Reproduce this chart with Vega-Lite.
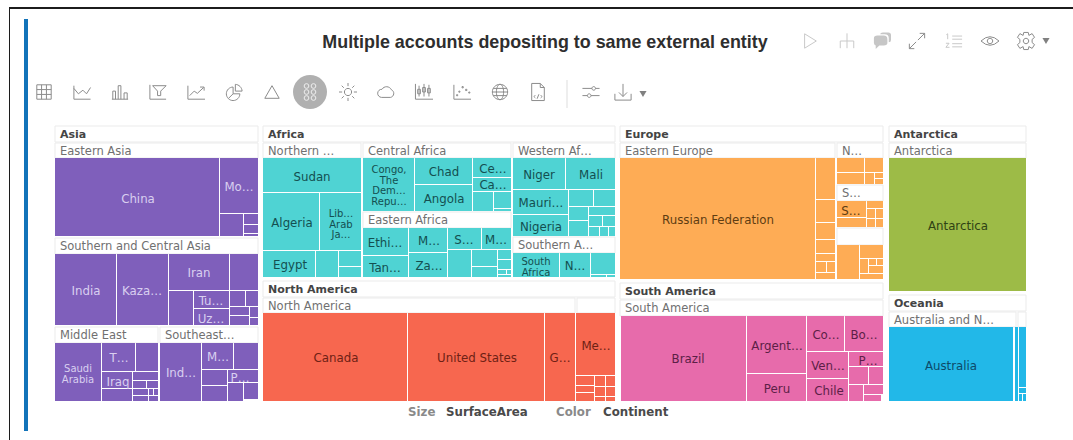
{
"$schema":"https://vega.github.io/schema/vega-lite/v6.json",
"autosize":{"type":"none"},
"padding":0,
"width":1073,"height":440,
"background":"#ffffff",
"config":{"view":{"stroke":null}},
"encoding":{
 "x":{"field":"x0","type":"quantitative","scale":{"domain":[0,1073]},"axis":null},
 "y":{"field":"y0","type":"quantitative","scale":{"domain":[440,0]},"axis":null}
},
"datasets":{
"cells":[
{"c":"Asia","x0":55,"x1":219,"y0":158,"y1":236},{"c":"Asia","x0":220,"x1":258,"y0":158,"y1":213},{"c":"Asia","x0":220,"x1":243,"y0":214,"y1":236},{"c":"Asia","x0":244,"x1":258,"y0":214,"y1":224},{"c":"Asia","x0":244,"x1":258,"y0":225,"y1":233},{"c":"Asia","x0":244,"x1":258,"y0":234,"y1":236},
{"c":"Asia","x0":55,"x1":116,"y0":254,"y1":325},{"c":"Asia","x0":117,"x1":168,"y0":254,"y1":325},{"c":"Asia","x0":169,"x1":229,"y0":254,"y1":290},{"c":"Asia","x0":230,"x1":258,"y0":254,"y1":290},{"c":"Asia","x0":169,"x1":193,"y0":291,"y1":325},{"c":"Asia","x0":194,"x1":229,"y0":291,"y1":308},{"c":"Asia","x0":194,"x1":229,"y0":309,"y1":325},{"c":"Asia","x0":230,"x1":245,"y0":291,"y1":306},{"c":"Asia","x0":246,"x1":258,"y0":291,"y1":306},{"c":"Asia","x0":230,"x1":249,"y0":307,"y1":315},{"c":"Asia","x0":250,"x1":258,"y0":307,"y1":317},{"c":"Asia","x0":230,"x1":249,"y0":316,"y1":325},{"c":"Asia","x0":250,"x1":258,"y0":318,"y1":325},
{"c":"Asia","x0":55,"x1":101,"y0":343,"y1":401},{"c":"Asia","x0":102,"x1":135,"y0":343,"y1":371},{"c":"Asia","x0":136,"x1":158,"y0":343,"y1":371},{"c":"Asia","x0":102,"x1":132,"y0":372,"y1":388},{"c":"Asia","x0":102,"x1":132,"y0":389,"y1":401},{"c":"Asia","x0":133,"x1":158,"y0":372,"y1":380},{"c":"Asia","x0":133,"x1":146,"y0":381,"y1":388},{"c":"Asia","x0":147,"x1":158,"y0":381,"y1":388},{"c":"Asia","x0":133,"x1":148,"y0":389,"y1":395},{"c":"Asia","x0":149,"x1":153,"y0":389,"y1":395},{"c":"Asia","x0":154,"x1":158,"y0":389,"y1":395},{"c":"Asia","x0":133,"x1":148,"y0":396,"y1":401},{"c":"Asia","x0":149,"x1":158,"y0":396,"y1":401},
{"c":"Asia","x0":160,"x1":201,"y0":343,"y1":401},{"c":"Asia","x0":202,"x1":233,"y0":343,"y1":369},{"c":"Asia","x0":234,"x1":258,"y0":343,"y1":369},{"c":"Asia","x0":202,"x1":227,"y0":370,"y1":385},{"c":"Asia","x0":228,"x1":258,"y0":370,"y1":382},{"c":"Asia","x0":202,"x1":227,"y0":386,"y1":401},{"c":"Asia","x0":228,"x1":243,"y0":383,"y1":401},{"c":"Asia","x0":244,"x1":258,"y0":383,"y1":399},
{"c":"Africa","x0":263,"x1":361,"y0":158,"y1":192},{"c":"Africa","x0":263,"x1":319,"y0":193,"y1":250},{"c":"Africa","x0":320,"x1":361,"y0":193,"y1":250},{"c":"Africa","x0":263,"x1":315,"y0":251,"y1":277},{"c":"Africa","x0":316,"x1":338,"y0":251,"y1":277},{"c":"Africa","x0":339,"x1":361,"y0":251,"y1":266},{"c":"Africa","x0":339,"x1":361,"y0":267,"y1":277},
{"c":"Africa","x0":363,"x1":414,"y0":158,"y1":211},{"c":"Africa","x0":415,"x1":472,"y0":158,"y1":184},{"c":"Africa","x0":415,"x1":472,"y0":185,"y1":211},{"c":"Africa","x0":473,"x1":511,"y0":158,"y1":177},{"c":"Africa","x0":473,"x1":511,"y0":178,"y1":191},{"c":"Africa","x0":473,"x1":493,"y0":192,"y1":211},{"c":"Africa","x0":494,"x1":511,"y0":192,"y1":208},{"c":"Africa","x0":494,"x1":511,"y0":209,"y1":211},
{"c":"Africa","x0":363,"x1":408,"y0":228,"y1":255},{"c":"Africa","x0":409,"x1":447,"y0":228,"y1":252},{"c":"Africa","x0":448,"x1":481,"y0":228,"y1":249},{"c":"Africa","x0":482,"x1":511,"y0":228,"y1":249},{"c":"Africa","x0":363,"x1":408,"y0":256,"y1":277},{"c":"Africa","x0":409,"x1":447,"y0":253,"y1":277},{"c":"Africa","x0":448,"x1":471,"y0":250,"y1":277},{"c":"Africa","x0":472,"x1":497,"y0":250,"y1":266},{"c":"Africa","x0":498,"x1":511,"y0":250,"y1":259},{"c":"Africa","x0":498,"x1":511,"y0":260,"y1":269},{"c":"Africa","x0":472,"x1":497,"y0":267,"y1":277},{"c":"Africa","x0":498,"x1":506,"y0":270,"y1":274},{"c":"Africa","x0":507,"x1":511,"y0":270,"y1":274},{"c":"Africa","x0":498,"x1":511,"y0":275,"y1":277},
{"c":"Africa","x0":513,"x1":565,"y0":158,"y1":189},{"c":"Africa","x0":566,"x1":615,"y0":158,"y1":189},{"c":"Africa","x0":513,"x1":568,"y0":190,"y1":214},{"c":"Africa","x0":569,"x1":593,"y0":190,"y1":206},{"c":"Africa","x0":594,"x1":615,"y0":190,"y1":206},{"c":"Africa","x0":513,"x1":568,"y0":215,"y1":236},{"c":"Africa","x0":569,"x1":588,"y0":207,"y1":220},{"c":"Africa","x0":589,"x1":615,"y0":207,"y1":215},{"c":"Africa","x0":589,"x1":602,"y0":216,"y1":226},{"c":"Africa","x0":603,"x1":615,"y0":216,"y1":226},{"c":"Africa","x0":569,"x1":588,"y0":221,"y1":236},{"c":"Africa","x0":589,"x1":599,"y0":227,"y1":236},{"c":"Africa","x0":600,"x1":608,"y0":227,"y1":236},{"c":"Africa","x0":609,"x1":615,"y0":227,"y1":236},
{"c":"Africa","x0":513,"x1":559,"y0":253,"y1":277},{"c":"Africa","x0":560,"x1":590,"y0":253,"y1":277},{"c":"Africa","x0":591,"x1":615,"y0":253,"y1":274},{"c":"Africa","x0":591,"x1":606,"y0":275,"y1":277},{"c":"Africa","x0":607,"x1":615,"y0":275,"y1":277},
{"c":"North America","x0":263,"x1":407,"y0":313,"y1":401},{"c":"North America","x0":408,"x1":544,"y0":313,"y1":401},{"c":"North America","x0":545,"x1":575,"y0":313,"y1":401},{"c":"North America","x0":576,"x1":615,"y0":313,"y1":375},{"c":"North America","x0":576,"x1":594,"y0":376,"y1":385},{"c":"North America","x0":595,"x1":605,"y0":376,"y1":386},{"c":"North America","x0":606,"x1":615,"y0":376,"y1":386},{"c":"North America","x0":576,"x1":594,"y0":386,"y1":392},{"c":"North America","x0":576,"x1":594,"y0":393,"y1":401},{"c":"North America","x0":595,"x1":605,"y0":387,"y1":396},{"c":"North America","x0":606,"x1":615,"y0":387,"y1":396},{"c":"North America","x0":595,"x1":605,"y0":397,"y1":401},{"c":"North America","x0":606,"x1":615,"y0":397,"y1":401},
{"c":"Europe","x0":620,"x1":815,"y0":158,"y1":279},{"c":"Europe","x0":816,"x1":835,"y0":158,"y1":199},{"c":"Europe","x0":816,"x1":835,"y0":200,"y1":222},{"c":"Europe","x0":816,"x1":835,"y0":223,"y1":239},{"c":"Europe","x0":816,"x1":835,"y0":240,"y1":253},{"c":"Europe","x0":816,"x1":835,"y0":254,"y1":261},{"c":"Europe","x0":816,"x1":826,"y0":262,"y1":272},{"c":"Europe","x0":827,"x1":835,"y0":262,"y1":272},{"c":"Europe","x0":816,"x1":835,"y0":273,"y1":279},
{"c":"Europe","x0":837,"x1":864,"y0":158,"y1":172},{"c":"Europe","x0":865,"x1":883,"y0":158,"y1":172},{"c":"Europe","x0":837,"x1":864,"y0":173,"y1":184},{"c":"Europe","x0":865,"x1":874,"y0":173,"y1":184},{"c":"Europe","x0":875,"x1":883,"y0":173,"y1":178},{"c":"Europe","x0":875,"x1":883,"y0":179,"y1":184},
{"c":"Europe","x0":837,"x1":866,"y0":201,"y1":217},{"c":"Europe","x0":867,"x1":883,"y0":201,"y1":208},{"c":"Europe","x0":867,"x1":875,"y0":209,"y1":218},{"c":"Europe","x0":876,"x1":883,"y0":209,"y1":218},{"c":"Europe","x0":837,"x1":866,"y0":218,"y1":227},{"c":"Europe","x0":867,"x1":875,"y0":219,"y1":227},{"c":"Europe","x0":876,"x1":883,"y0":219,"y1":227},
{"c":"Europe","x0":837,"x1":859,"y0":245,"y1":279},{"c":"Europe","x0":860,"x1":883,"y0":245,"y1":258},{"c":"Europe","x0":860,"x1":868,"y0":259,"y1":273},{"c":"Europe","x0":869,"x1":876,"y0":259,"y1":265},{"c":"Europe","x0":877,"x1":883,"y0":259,"y1":265},{"c":"Europe","x0":869,"x1":883,"y0":266,"y1":273},{"c":"Europe","x0":860,"x1":883,"y0":274,"y1":279},
{"c":"South America","x0":621,"x1":746,"y0":316,"y1":401},{"c":"South America","x0":747,"x1":806,"y0":316,"y1":373},{"c":"South America","x0":747,"x1":806,"y0":374,"y1":401},{"c":"South America","x0":807,"x1":844,"y0":316,"y1":351},{"c":"South America","x0":845,"x1":883,"y0":316,"y1":351},{"c":"South America","x0":807,"x1":848,"y0":352,"y1":378},{"c":"South America","x0":807,"x1":848,"y0":379,"y1":401},{"c":"South America","x0":849,"x1":883,"y0":352,"y1":366},{"c":"South America","x0":849,"x1":868,"y0":367,"y1":384},{"c":"South America","x0":869,"x1":883,"y0":367,"y1":384},{"c":"South America","x0":849,"x1":863,"y0":385,"y1":401},{"c":"South America","x0":864,"x1":883,"y0":385,"y1":394},{"c":"South America","x0":864,"x1":881,"y0":395,"y1":401},
{"c":"Antarctica","x0":889,"x1":1026,"y0":158,"y1":291},
{"c":"Oceania","x0":889,"x1":1013,"y0":327,"y1":401},{"c":"Oceania","x0":1015,"x1":1018,"y0":327,"y1":401},{"c":"Oceania","x0":1019,"x1":1026,"y0":327,"y1":387},{"c":"Oceania","x0":1019,"x1":1026,"y0":388,"y1":393},{"c":"Oceania","x0":1019,"x1":1022,"y0":394,"y1":401},{"c":"Oceania","x0":1023,"x1":1026,"y0":394,"y1":401}
],
"labels":[
{"n":"China","c":"Asia","x0":138,"y0":198},{"n":"Mo…","c":"Asia","x0":239,"y0":186},{"n":"India","c":"Asia","x0":86,"y0":290},{"n":"Kaza…","c":"Asia","x0":142,"y0":290},{"n":"Iran","c":"Asia","x0":199,"y0":272},{"n":"Tu…","c":"Asia","x0":211,"y0":300},{"n":"Uz…","c":"Asia","x0":211,"y0":318},{"n":"T…","c":"Asia","x0":119,"y0":357},{"n":"Iraq","c":"Asia","x0":118,"y0":381},{"n":"Ind…","c":"Asia","x0":181,"y0":372},{"n":"M…","c":"Asia","x0":218,"y0":356},{"n":"P…","c":"Asia","x0":240,"y0":377},
{"n":"Sudan","c":"Africa","x0":312,"y0":176},{"n":"Algeria","c":"Africa","x0":292,"y0":222},{"n":"Egypt","c":"Africa","x0":290,"y0":264},{"n":"Chad","c":"Africa","x0":444,"y0":171},{"n":"Angola","c":"Africa","x0":444,"y0":198},{"n":"Ce…","c":"Africa","x0":493,"y0":168},{"n":"Ca…","c":"Africa","x0":493,"y0":184},{"n":"Ethi…","c":"Africa","x0":385,"y0":242},{"n":"M…","c":"Africa","x0":429,"y0":240},{"n":"S…","c":"Africa","x0":464,"y0":239},{"n":"M…","c":"Africa","x0":496,"y0":239},{"n":"Tan…","c":"Africa","x0":385,"y0":267},{"n":"Za…","c":"Africa","x0":429,"y0":265},{"n":"Niger","c":"Africa","x0":539,"y0":174},{"n":"Mali","c":"Africa","x0":591,"y0":174},{"n":"Mauri…","c":"Africa","x0":541,"y0":202},{"n":"Nigeria","c":"Africa","x0":541,"y0":226},{"n":"N…","c":"Africa","x0":575,"y0":265},
{"n":"Canada","c":"North America","x0":336,"y0":357},{"n":"United States","c":"North America","x0":477,"y0":357},{"n":"G…","c":"North America","x0":560,"y0":357},{"n":"Me…","c":"North America","x0":596,"y0":345},
{"n":"Russian Federation","c":"Europe","x0":718,"y0":219},{"n":"S…","c":"Europe","x0":851,"y0":210},
{"n":"Brazil","c":"South America","x0":688,"y0":358},{"n":"Argent…","c":"South America","x0":777,"y0":345},{"n":"Peru","c":"South America","x0":777,"y0":388},{"n":"Co…","c":"South America","x0":826,"y0":334},{"n":"Bo…","c":"South America","x0":864,"y0":334},{"n":"Ven…","c":"South America","x0":828,"y0":365},{"n":"Chile","c":"South America","x0":829,"y0":390},{"n":"P…","c":"South America","x0":868,"y0":360},
{"n":"Antarctica","c":"Antarctica","x0":958,"y0":225},{"n":"Australia","c":"Oceania","x0":951,"y0":365}
],
"multiline":[
{"n":"Saudi\nArabia","c":"Asia","x0":78,"y0":368},{"n":"Lib…\nArab\nJa…","c":"Africa","x0":341,"y0":213},{"n":"Congo,\nThe\nDem…\nRepu…","c":"Africa","x0":389,"y0":169},{"n":"South\nAfrica","c":"Africa","x0":536,"y0":261}
],
"headers":[
{"n":"Asia","b":1,"x0":55,"x1":258,"y0":126,"y1":142},{"n":"Eastern Asia","b":0,"x0":55,"x1":258,"y0":143,"y1":158},{"n":"Southern and Central Asia","b":0,"x0":55,"x1":258,"y0":238,"y1":254},{"n":"Middle East","b":0,"x0":55,"x1":158,"y0":327,"y1":343},{"n":"Southeast…","b":0,"x0":160,"x1":258,"y0":327,"y1":343},
{"n":"Africa","b":1,"x0":263,"x1":615,"y0":126,"y1":142},{"n":"Northern …","b":0,"x0":263,"x1":361,"y0":143,"y1":158},{"n":"Central Africa","b":0,"x0":363,"x1":511,"y0":143,"y1":158},{"n":"Western Af…","b":0,"x0":513,"x1":615,"y0":143,"y1":158},{"n":"Eastern Africa","b":0,"x0":363,"x1":511,"y0":212,"y1":228},{"n":"Southern A…","b":0,"x0":513,"x1":615,"y0":237,"y1":253},
{"n":"North America","b":1,"x0":263,"x1":615,"y0":281,"y1":297},{"n":"North America","b":0,"x0":263,"x1":575,"y0":298,"y1":313},{"n":"","b":0,"x0":577,"x1":615,"y0":298,"y1":313},
{"n":"Europe","b":1,"x0":620,"x1":883,"y0":126,"y1":142},{"n":"Eastern Europe","b":0,"x0":620,"x1":835,"y0":143,"y1":158},{"n":"N…","b":0,"x0":837,"x1":883,"y0":143,"y1":158},{"n":"S…","b":0,"x0":837,"x1":883,"y0":185,"y1":201},{"n":"","b":0,"x0":837,"x1":883,"y0":228,"y1":245},
{"n":"South America","b":1,"x0":620,"x1":883,"y0":283,"y1":299},{"n":"South America","b":0,"x0":620,"x1":883,"y0":300,"y1":316},
{"n":"Antarctica","b":1,"x0":889,"x1":1026,"y0":126,"y1":142},{"n":"Antarctica","b":0,"x0":889,"x1":1026,"y0":143,"y1":158},
{"n":"Oceania","b":1,"x0":889,"x1":1026,"y0":295,"y1":311},{"n":"Australia and N…","b":0,"x0":889,"x1":1016,"y0":312,"y1":327},{"n":"","b":0,"x0":1018,"x1":1026,"y0":312,"y1":327}
],
"icons":[
{"i":"table","x0":44,"y0":92},{"i":"area","x0":82,"y0":92},{"i":"bars","x0":120,"y0":92},{"i":"funnel","x0":158,"y0":92},{"i":"trend","x0":196,"y0":92},{"i":"pie","x0":234,"y0":92},{"i":"tri","x0":272,"y0":92},{"i":"sun","x0":348,"y0":92},{"i":"cloud","x0":386,"y0":92},{"i":"candle","x0":424,"y0":92},{"i":"scatter","x0":462,"y0":92},{"i":"globe","x0":500,"y0":92},{"i":"doc","x0":538,"y0":92},{"i":"sliders","x0":591,"y0":92},{"i":"download","x0":623,"y0":92},
{"i":"expand","x0":917,"y0":41},{"i":"eye","x0":990,"y0":41},{"i":"gear","x0":1026,"y0":41}
],
"faint":[{"i":"play","x0":810,"y0":41},{"i":"tree","x0":847,"y0":41},{"i":"list","x0":954,"y0":41}]
},
"layer":[
{"data":{"values":[{"x0":10,"x1":1073,"y0":7,"y1":9},{"x0":9,"x1":10,"y0":7,"y1":440}]},
 "mark":{"type":"rect","color":"#1c1c1c"},"encoding":{"x2":{"field":"x1"},"y2":{"field":"y1"}}},
{"data":{"values":[{"x0":24,"x1":28,"y0":19,"y1":431}]},
 "mark":{"type":"rect","color":"#1273b9"},"encoding":{"x2":{"field":"x1"},"y2":{"field":"y1"}}},
{"data":{"values":[{"x0":566.5,"x1":567.5,"y0":80,"y1":108}]},
 "mark":{"type":"rect","color":"#dddddd"},"encoding":{"x2":{"field":"x1"},"y2":{"field":"y1"}}},
{"data":{"values":[{"n":"Multiple accounts depositing to same external entity","x0":545,"y0":43}]},
 "mark":{"type":"text","align":"center","baseline":"middle","font":"Liberation Sans","fontSize":17.9,"fontWeight":"bold","color":"#2e2e2e"},
 "encoding":{"text":{"field":"n"}}},
{"data":{"values":[{"n":"Size","x0":408,"y0":412},{"n":"Color","x0":556,"y0":412}]},
 "mark":{"type":"text","align":"left","baseline":"middle","font":"DejaVu Sans","fontSize":11.8,"fontWeight":"bold","color":"#8a8a8a"},
 "encoding":{"text":{"field":"n"}}},
{"data":{"values":[{"n":"SurfaceArea","x0":446,"y0":412},{"n":"Continent","x0":603,"y0":412}]},
 "mark":{"type":"text","align":"left","baseline":"middle","font":"DejaVu Sans","fontSize":11.8,"fontWeight":"bold","color":"#4a4a4a"},
 "encoding":{"text":{"field":"n"}}},
{"data":{"values":[{"x0":310,"y0":92}]},
 "mark":{"type":"point","shape":"circle","filled":true,"size":1156,"color":"#b0b0b0","opacity":1}},
{"data":{"values":[{"x0":306.5,"y0":86},{"x0":313.5,"y0":86},{"x0":306.5,"y0":92},{"x0":313.5,"y0":92},{"x0":306.5,"y0":98},{"x0":313.5,"y0":98}]},
 "mark":{"type":"point","shape":"circle","filled":false,"size":22,"stroke":"#eeeeee","strokeWidth":1,"opacity":1}},
{"data":{"name":"icons"},
 "mark":{"type":"point","filled":false,"size":324,"stroke":"#8c8c8c","strokeWidth":1,"opacity":1},
 "encoding":{"shape":{"field":"i","type":"nominal","legend":null,"scale":{
  "domain":["table","area","bars","funnel","trend","pie","tri","sun","cloud","candle","scatter","globe","doc","sliders","download","play","tree","expand","list","eye","gear"],
  "range":[
  "M-0.8-0.8H0.8V0.8H-0.8Z M-0.8-0.27H0.8 M-0.8 0.27H0.8 M-0.27-0.8V0.8 M0.27-0.8V0.8",
  "M-0.9-0.7V0.8H0.95 M-0.9-0.4L-0.4 0.2L0.1-0.2L0.5 0.2L0.95-0.5",
  "M-0.9 0.8H0.9 M-0.8 0.8V-0.1H-0.5V0.8 M-0.2 0.8V-0.7H0.1V0.8 M0.45 0.8V0.1H0.8V0.8",
  "M-0.9-0.8V0.8H0.9 M-0.6-0.7H0.9L0.3-0.1V0.4H-0.05V-0.1Z",
  "M-0.9-0.7V0.8H1 M-0.7 0.4L-0.2-0.1L0.15 0.15L0.85-0.5 M0.45-0.55H0.9V-0.15",
  "M-0.1-0.55A0.75 0.75 0 1 0 0.65 0.2H-0.1Z M0.15-0.85A0.8 0.8 0 0 1 0.9-0.1H0.15Z M-0.1 0.2L-0.6 0.7",
  "M0-0.7L0.8 0.7H-0.8Z",
  "M0.4 0A0.4 0.4 0 1 1 -0.4 0A0.4 0.4 0 1 1 0.4 0Z M0-1V-0.65 M0 1V0.65 M-1 0H-0.65 M1 0H0.65 M-0.7-0.7L-0.47-0.47 M0.7-0.7L0.47-0.47 M-0.7 0.7L-0.47 0.47 M0.7 0.7L0.47 0.47",
  "M-0.5 0.6H0.5A0.45 0.45 0 0 0 0.6-0.25A0.6 0.6 0 0 0 -0.45-0.3A0.45 0.45 0 0 0 -0.5 0.6Z",
  "M-0.95-0.9V0.8H1 M-0.55-0.7V0.5 M-0.7-0.3H-0.4V0.2H-0.7Z M0-0.9V0.5 M-0.15-0.5H0.15V0H-0.15Z M0.55-0.8V0.5 M0.4-0.4H0.7V0.1H0.4Z",
  "M-0.9-0.8V0.8H1 M-0.6 0.3h0.12v0.12h-0.12Z M-0.35-0.1h0.12v0.12h-0.12Z M0-0.6h0.14v0.14h-0.14Z M0.4-0.3h0.14v0.14h-0.14Z M0.75 0h0.12v0.12h-0.12Z",
  "M0.85 0A0.85 0.85 0 1 1 -0.85 0A0.85 0.85 0 1 1 0.85 0Z M0.4 0A0.4 0.85 0 1 1 -0.4 0A0.4 0.85 0 1 1 0.4 0Z M-0.85 0H0.85 M-0.75-0.4H0.75 M-0.75 0.4H0.75",
  "M-0.7-0.95H0.25L0.7-0.5V0.95H-0.7Z M0.25-0.95V-0.5H0.7 M-0.3 0.35L-0.45 0.5L-0.3 0.65 M0.3 0.35L0.45 0.5L0.3 0.65 M0.1 0.25L-0.1 0.75",
  "M-0.95-0.4H0.1 M0.5-0.4H0.95 M0.5-0.4A0.2 0.2 0 1 1 0.1-0.4A0.2 0.2 0 1 1 0.5-0.4Z M-0.95 0.4H-0.4 M0 0.4H0.95 M0 0.4A0.2 0.2 0 1 1 -0.4 0.4A0.2 0.2 0 1 1 0 0.4Z",
  "M-0.9 0.2V0.9H0.9V0.2 M0-0.9V0.5 M-0.45 0.05L0 0.5L0.45 0.05",
  "M-0.6-0.8L0.7 0L-0.6 0.8Z",
  "M0-0.85V0.8 M-0.75 0.8V0H0.75V0.8",
  "M0.1-0.1L0.85-0.85 M0.3-0.85H0.85V-0.3 M-0.1 0.1L-0.85 0.85 M-0.85 0.3V0.85H-0.3",
  "M-0.2-0.55H0.9 M-0.2-0.2H0.9 M-0.2 0.3H0.9 M-0.2 0.65H0.9 M-0.85-0.7L-0.7-0.8V-0.2 M-0.9 0.25H-0.55L-0.9 0.7H-0.5",
  "M-1 0Q0-0.95 1 0Q0 0.95 -1 0Z M0.3 0A0.3 0.3 0 1 1 -0.3 0A0.3 0.3 0 1 1 0.3 0Z",
  "M-0.25-0.95H0.25L0.32-0.62L0.68-0.82L0.95-0.4L0.68-0.18V0.18L0.95 0.4L0.68 0.82L0.32 0.62L0.25 0.95H-0.25L-0.32 0.62L-0.68 0.82L-0.95 0.4L-0.68 0.18V-0.18L-0.95-0.4L-0.68-0.82L-0.32-0.62Z M0.3 0A0.3 0.3 0 1 1 -0.3 0A0.3 0.3 0 1 1 0.3 0Z"
  ]}}}},
{"data":{"name":"faint"},
 "mark":{"type":"point","filled":false,"size":324,"stroke":"#c9c9c9","strokeWidth":1,"opacity":1},
 "encoding":{"shape":{"field":"i","type":"nominal","legend":null}}},
{"data":{"values":[{"x0":882,"y0":41}]},
 "mark":{"type":"point","filled":true,"size":324,"color":"#c6c6c6","opacity":1,"shape":"M-0.9-0.3Q-0.9-0.6-0.5-0.6H0.2Q0.6-0.6 0.6-0.2V0.2Q0.6 0.5 0.2 0.5H-0.3L-0.7 0.9V0.5Q-0.9 0.45-0.9 0.2Z M-0.2-0.75Q-0.2-0.95 0.1-0.95H0.7Q1-0.95 1-0.65V-0.1Q1 0.15 0.75 0.15V-0.3Q0.75-0.75 0.3-0.75Z"}},
{"data":{"values":[{"x0":643,"y0":94},{"x0":1046,"y0":41}]},
 "mark":{"type":"point","shape":"triangle-down","filled":true,"size":50,"color":"#808080","opacity":1}},
{"data":{"name":"headers"},
 "mark":{"type":"rect","fill":"#ffffff","stroke":"#ebebeb","strokeWidth":1},
 "encoding":{"x2":{"field":"x1"},"y2":{"field":"y1"}}},
{"data":{"name":"headers"},
 "transform":[{"filter":"datum.b==1"}],
 "mark":{"type":"text","align":"left","baseline":"middle","dx":5,"dy":8.5,"font":"DejaVu Sans","fontSize":11,"fontWeight":"bold","color":"#444444"},
 "encoding":{"text":{"field":"n"}}},
{"data":{"name":"headers"},
 "transform":[{"filter":"datum.b==0"}],
 "mark":{"type":"text","align":"left","baseline":"middle","dx":5,"dy":8.5,"font":"DejaVu Sans","fontSize":11.5,"color":"#707070"},
 "encoding":{"text":{"field":"n"}}},
{"data":{"name":"cells"},
 "mark":{"type":"rect"},
 "encoding":{"x2":{"field":"x1"},"y2":{"field":"y1"},
  "fill":{"field":"c","type":"nominal","legend":null,"scale":{"domain":["Asia","Africa","North America","Europe","South America","Antarctica","Oceania"],"range":["#7f5fbb","#4fd3d3","#f7674f","#feac55","#e76bab","#9dbb47","#22b8e8"]}}}},
{"data":{"name":"labels"},
 "mark":{"type":"text","align":"center","baseline":"middle","dy":1,"font":"DejaVu Sans","fontSize":11.8},
 "encoding":{"text":{"field":"n"},
  "color":{"field":"c","type":"nominal","legend":null,"scale":{"domain":["Asia","Africa","North America","Europe","South America","Antarctica","Oceania"],"range":["#d9cff0","#144f50","#6e2115","#5f3d12","#5c1f47","#2f4214","#0d4a68"]}}}},
{"data":{"name":"multiline"},
 "mark":{"type":"text","align":"center","baseline":"middle","dy":1,"font":"DejaVu Sans","fontSize":10,"lineHeight":10.7,"lineBreak":"\n"},
 "encoding":{"text":{"field":"n"},
  "color":{"field":"c","type":"nominal","legend":null,"scale":{"domain":["Asia","Africa","North America","Europe","South America","Antarctica","Oceania"],"range":["#d9cff0","#144f50","#6e2115","#5f3d12","#5c1f47","#2f4214","#0d4a68"]}}}}
]
}
